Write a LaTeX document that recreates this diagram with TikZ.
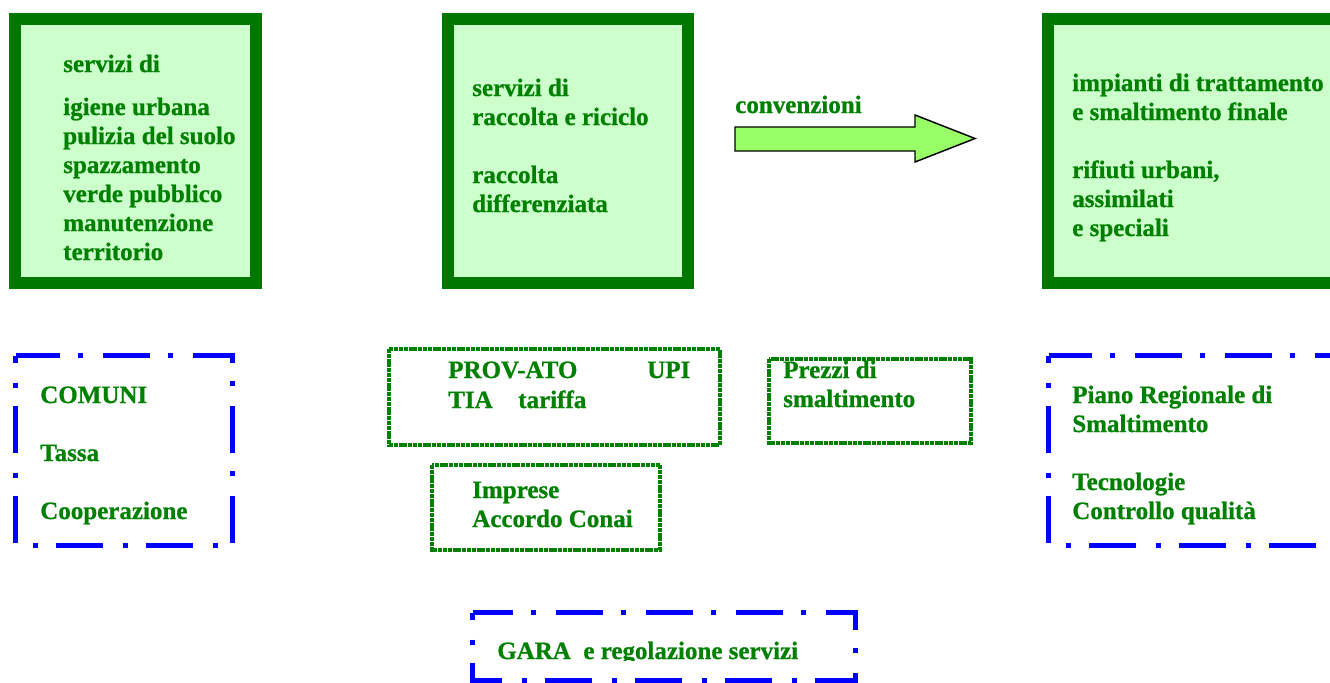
\documentclass[tikz,border=0pt]{standalone}
\usepackage{fontspec}
\setmainfont{Liberation Serif}[BoldFeatures={FakeBold=0.8}]
\definecolor{tgreen}{RGB}{0,128,0}
\definecolor{bgreen}{RGB}{0,120,0}
\definecolor{lfill}{RGB}{204,255,204}
\definecolor{afill}{RGB}{153,255,102}
\definecolor{dblue}{RGB}{0,0,255}
\tikzset{
  txt/.style={anchor=base west, inner sep=0pt, text=tgreen,
    font=\bfseries\fontsize{18.75}{21.75}\selectfont},
  bigbox/.style={draw=bgreen, fill=lfill, line width=9pt},
  dotbox/.style={draw=tgreen, line width=3.3pt, dash pattern=on 3pt off 0.6pt},
  dashdotbox/.style={draw=dblue, line width=3.75pt,
    dash pattern=on 35.25pt off 15pt on 3.75pt off 13.5pt},
  arrowshape/.style={draw=black, fill=afill, line width=1.1pt, line join=miter}
}
\begin{document}
\begin{tikzpicture}[x=0.75pt,y=-0.75pt]
\clip (0,0) rectangle (1330,682);
\fill[white] (0,0) rectangle (1330,682);

% big boxes
\draw[bigbox] (15,19) rectangle (256,283);
\draw[bigbox] (447.5,19) rectangle (687.5,283);
\draw[bigbox] (1047.5,19) rectangle (1345,283);

% box 1 text
\node[txt] (s1) at (63,72) {servizi di};
\node[txt] (s2) at (63,115) {igiene urbana};
\node[txt] (s3) at (63,144) {pulizia del suolo};
\node[txt] (s4) at (63,173) {spazzamento};
\node[txt] (s5) at (63,202) {verde pubblico};
\node[txt] (s6) at (63,231) {manutenzione};
\node[txt] (s7) at (63,260) {territorio};

% box 2 text
\node[txt] (r1) at (472,96) {servizi di};
\node[txt] (r2) at (472,125) {raccolta e riciclo};
\node[txt] (r3) at (472,183) {raccolta};
\node[txt] (r4) at (472,212) {differenziata};

% box 3 text
\node[txt] (i1) at (1072,91) {impianti di trattamento};
\node[txt] (i2) at (1072,120) {e smaltimento finale};
\node[txt] (i3) at (1072,178) {rifiuti urbani,};
\node[txt] (i4) at (1072,207) {assimilati};
\node[txt] (i5) at (1072,236) {e speciali};

% arrow
\node[txt] (conv) at (735,113) {convenzioni};
\draw[arrowshape] (735,127) -- (915,127) -- (915,115) -- (975,138.5)
  -- (915,162) -- (915,151) -- (735,151) -- cycle;

% blue dash-dot boxes
\draw[dashdotbox, dash phase=30pt] (15.5,355.5) rectangle (232.5,545.5);
\node[txt] (c1) at (40,403) {COMUNI};
\node[txt] (c2) at (40,461) {Tassa};
\node[txt] (c3) at (40,519) {Cooperazione};

\draw[dashdotbox, dash phase=30pt] (1048.5,355.5) rectangle (1400,545.5);
\node[txt] (p1) at (1072,403) {Piano Regionale di};
\node[txt] (p2) at (1072,432) {Smaltimento};
\node[txt] (p3) at (1072,490) {Tecnologie};
\node[txt] (p4) at (1072,519) {Controllo qualità};

\draw[dashdotbox, dash phase=30pt] (472.5,612.5) rectangle (855,680);
\begin{scope}
\clip (0,0) rectangle (1330,660);
\node[txt] (g1) at (497,659) {GARA\ \ e regolazione servizi};
\end{scope}

% green dotted boxes
\draw[dotbox] (389,349) rectangle (720,445);
\node[txt] (a1) at (448,378) {PROV-ATO};
\node[txt] (a2) at (647,378) {UPI};
\node[txt] (a3) at (448,408) {TIA};
\node[txt] (a4) at (518,408) {tariffa};

\draw[dotbox] (432,465) rectangle (660,550);
\node[txt] (m1) at (472,498) {Imprese};
\node[txt] (m2) at (472,527) {Accordo Conai};

\draw[dotbox] (769,359) rectangle (971,443);
\node[txt] (z1) at (783,378) {Prezzi di};
\node[txt] (z2) at (783,407) {smaltimento};
\end{tikzpicture}
\end{document}
